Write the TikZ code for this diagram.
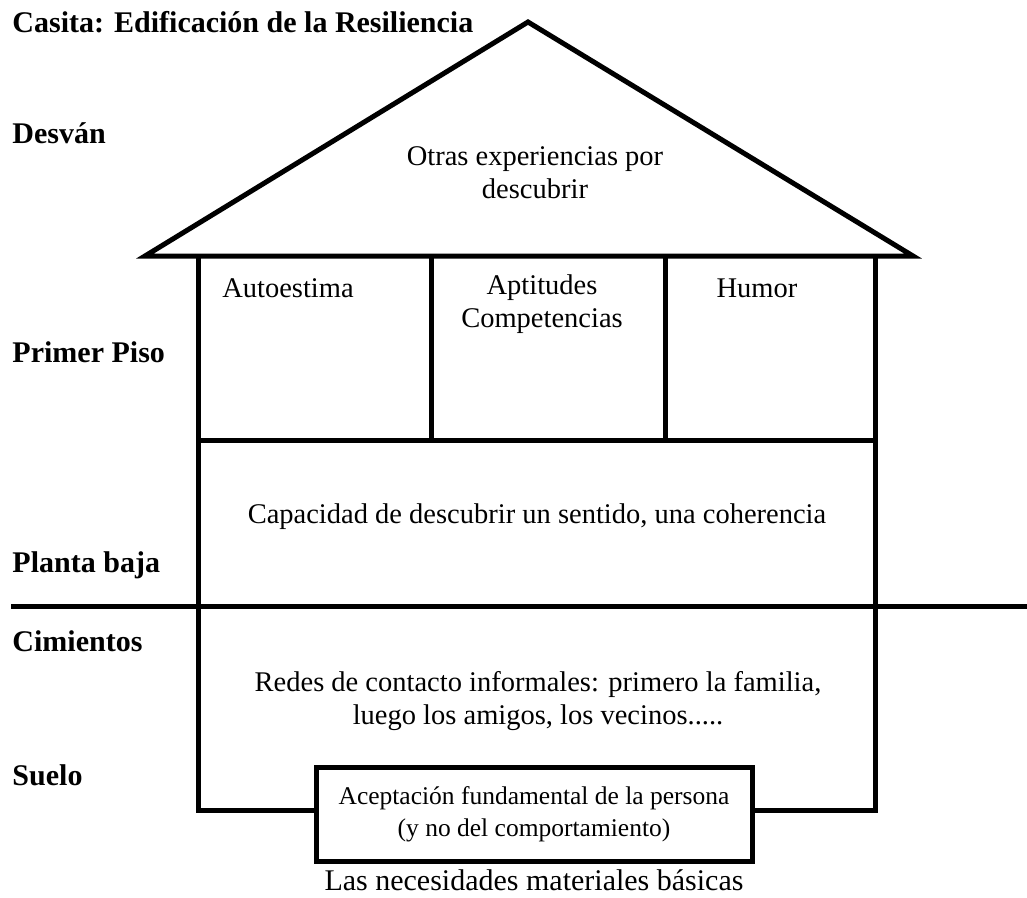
\documentclass[tikz,border=0pt]{standalone}
\usepackage{fontspec}
\setmainfont{Liberation Serif}
\begin{document}
\begin{tikzpicture}[x=1pt,y=-1pt,line width=5pt,
	texto/.style={align=center,inner sep=0pt,font=\fontsize{28.5}{33}\selectfont},
	nivel/.style={anchor=west,inner sep=0pt,font=\bfseries\fontsize{30}{33}\selectfont}]
			\useasboundingbox (0,0) rectangle (1027,897);
			% techo y paredes
			\draw[line join=miter] (145,256) -- (528,22) -- (913,256) -- cycle;
			\draw (198,256) -- (198,440) -- (875,440) -- (875,256);
			\draw (431,256) -- (431,440);
			\draw (665,256) -- (665,440);
			\draw (11,606) -- (1027,606);
			\node[draw, inner sep=0pt, minimum width=436, minimum height=94, align=center, font=\fontsize{25.5}{32}\selectfont] at(534,814) (aceptacion) {Aceptación fundamental de la persona\\(y no del comportamiento)};
			\draw (198,440) -- (198,810) -- (aceptacion.west |- 0,810);
			\draw (875,440) -- (875,810) -- (aceptacion.east |- 0,810);
			
			\node[nivel] at(10,22) (titulo) {Casita: Edificación de la Resiliencia};
			\node[nivel] at(10,133) (desvan) {Desván};
			\node[nivel] at(10,352) (piso1) {Primer Piso};
			\node[nivel] at(10,565) (planta) {Planta baja};
			\node[nivel] at(10,641) (cimientos) {Cimientos};
			\node[nivel] at(10,775) (suelo) {Suelo};
			
			\node[texto] at(535,173) (otras) {Otras experiencias por\\descubrir};
			\node[texto] at(288,288) (autoestima) {Autoestima};
			\node[texto] at(542,304) (aptitudes) {Aptitudes\\Competencias};
			\node[texto] at(757,288) (humor) {Humor};
			\node[texto] at(537,517) (capacidad) {Capacidad de descubrir un sentido, una coherencia};
			\node[texto] at(538,701) (redes) {Redes de contacto informales: primero la familia,\\luego los amigos, los vecinos.....};
			\node[texto, font=\fontsize{30}{33}\selectfont] at(534,880) (necesidades) {Las necesidades materiales básicas};
			\end{tikzpicture}
\end{document}
